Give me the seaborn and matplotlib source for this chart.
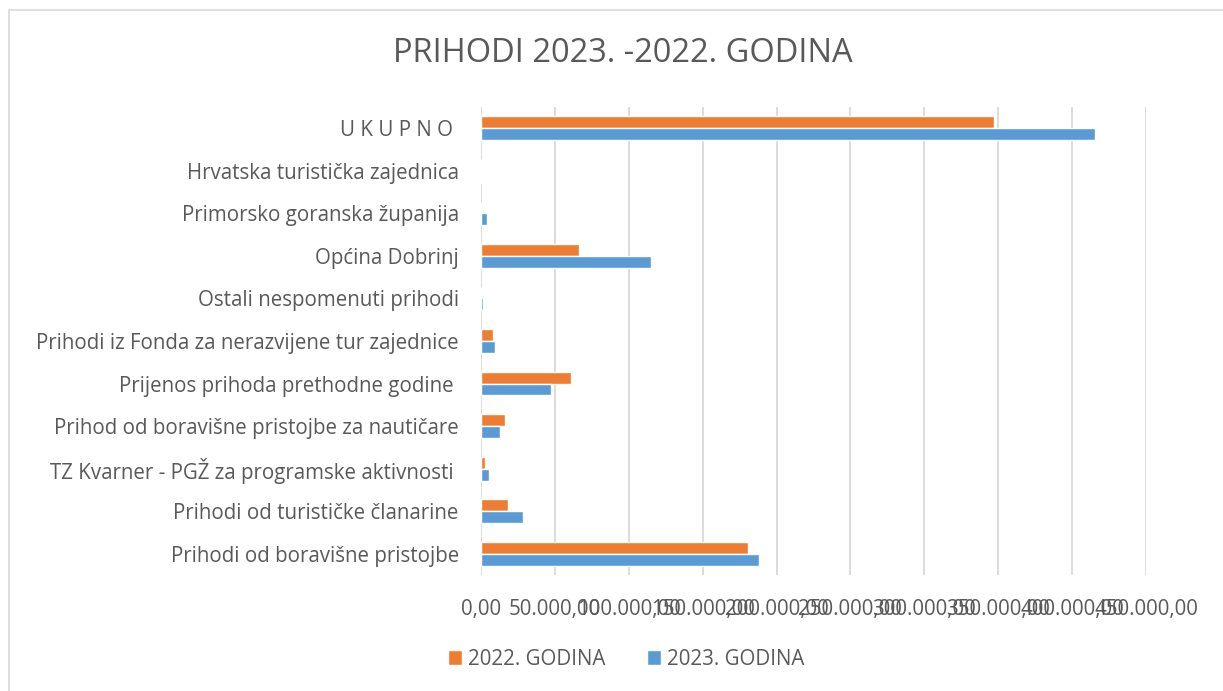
import seaborn as sns
import matplotlib.pyplot as plt
import pandas as pd
from matplotlib.patches import Rectangle
from matplotlib.ticker import FuncFormatter

# DATA
categories = [
    'U K U P N O ',
    'Hrvatska turistička zajednica',
    'Primorsko goranska županija',
    'Općina Dobrinj',
    'Ostali nespomenuti prihodi',
    'Prihodi iz Fonda za nerazvijene tur zajednice',
    'Prijenos prihoda prethodne godine ',
    'Prihod od boravišne pristojbe za nautičare',
    'TZ Kvarner - PGŽ za programske aktivnosti ',
    'Prihodi od turističke članarine',
    'Prihodi od boravišne pristojbe',
]
values_2022 = [347000, 0, 0, 66600, 0, 8200, 61200, 16100, 2900, 18100, 181000]
values_2023 = [415700, 1000, 4000, 115100, 1500, 9500, 47100, 12900, 5200, 28300, 188000]
series_names = ['2022. GODINA', '2023. GODINA']
x_ticks = [0, 50000, 100000, 150000, 200000, 250000, 300000, 350000, 400000, 450000]

df = pd.DataFrame({
    'Kategorija': categories * 2,
    'Iznos': values_2022 + values_2023,
    'Godina': [series_names[0]] * len(categories) + [series_names[1]] * len(categories),
})

# STYLE
sns.set_style('white')
plt.rcParams['font.family'] = ['Open Sans', 'DejaVu Sans']
text_color = '#595959'

fig = plt.figure(figsize=(12.23, 6.91), dpi=100)
ax = fig.add_axes([0.3933, 0.168, 0.5437, 0.677])

sns.barplot(
    data=df, y='Kategorija', x='Iznos', hue='Godina',
    order=categories, hue_order=series_names,
    palette=['#ED7D31', '#5B9BD5'], width=0.56, saturation=1,
    orient='h', ax=ax, legend=True,
)

# axis formatting (Croatian number format, e.g. 50.000,00)
def fmt(v, pos):
    s = f'{v:,.2f}'
    return s.replace(',', 'X').replace('.', ',').replace('X', '.')

ax.set_xlim(0, 450000)
ax.set_xticks(x_ticks)
ax.xaxis.set_major_formatter(FuncFormatter(fmt))
ax.set_xlabel('')
ax.set_ylabel('')
ax.tick_params(axis='x', labelsize=14.8, colors=text_color, length=0, pad=17)
ax.tick_params(axis='y', labelsize=14.8, colors=text_color, length=0, pad=16)
ax.grid(axis='x', color='#d9d9d9', linewidth=1.3)
ax.set_axisbelow(True)
for s in ax.spines.values():
    s.set_visible(False)

# title
fig.text(0.509, 0.923, 'PRIHODI 2023. -2022. GODINA', ha='center', va='center',
         fontsize=23.5, color=text_color)

# legend at bottom
handles, labels = ax.get_legend_handles_labels()
ax.get_legend().remove()
fig.legend(handles, labels, loc='center', bbox_to_anchor=(0.512, 0.046), ncol=2,
           frameon=False, fontsize=14.8, labelcolor=text_color,
           handlelength=0.7, handleheight=0.7, handletextpad=0.3, columnspacing=2.0)

# outer chart border
fig.patches.append(Rectangle((9 / 1223, -0.01), 1.02, (691 - 10) / 691 + 0.01,
                             transform=fig.transFigure, fill=False,
                             edgecolor='#d9d9d9', linewidth=1.2))

fig.savefig('out.png', dpi=100)
